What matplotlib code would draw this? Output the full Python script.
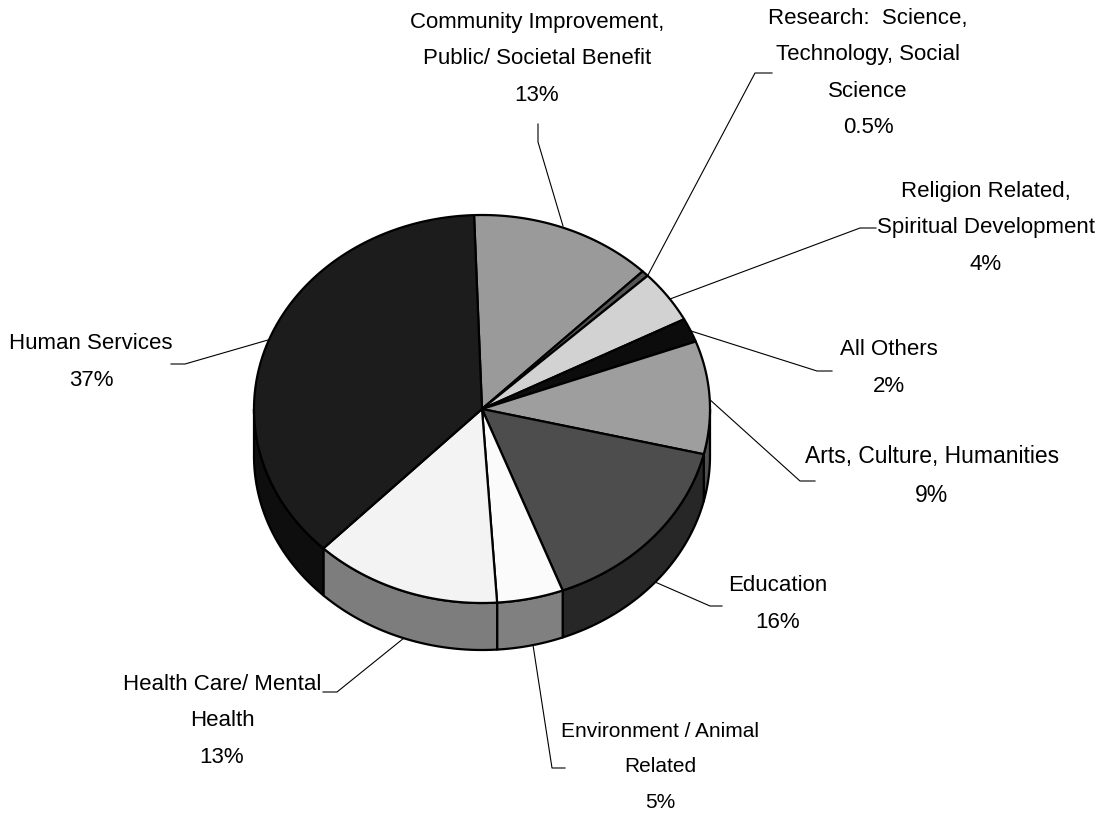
import numpy as np
import matplotlib
matplotlib.use("Agg")
import matplotlib.pyplot as plt

# clockwise from the top of the pie
categories = ["Community Improvement,\nPublic/ Societal Benefit", "Research:  Science,\nTechnology, Social\nScience",
              "Religion Related,\nSpiritual Development", "All Others", "Arts, Culture, Humanities", "Education",
              "Environment / Animal\nRelated", "Health Care/ Mental\nHealth", "Human Services"]
values = [13, 0.5, 4.4, 2, 9.4, 15.5, 4.7, 13.3, 37.2]
value_labels = ["13%", "0.5%", "4%", "2%", "9%", "16%", "5%", "13%", "37%"]
top_colors = ["#9a9a9a", "#555555", "#d2d2d2", "#0c0c0c", "#9e9e9e", "#4d4d4d", "#fbfbfb", "#f3f3f3", "#1c1c1c"]
side_colors = ["#4d4d4d", "#2a2a2a", "#696969", "#060606", "#4f4f4f", "#272727", "#808080", "#7d7d7d", "#0e0e0e"]

# layout in pixels
CX, CY = 482, 409
RX, RY = 228, 194
DEPTH = 47
START = -2.0

label_pos = [(537, 59), (868, 73), (986, 228), (889, 368), (932, 476), (778, 604), (660, 767), (222, 721), (91, 362)]
label_size = [16, 16, 16, 16, 16.5, 16, 15, 16, 16]
leaders = [
    [(563, 226), (538, 142), (538, 124)],
    [(648, 275), (755, 73), (772, 73)],
    [(670, 299), (860, 228), (876, 228)],
    [(691, 331), (817, 371), (832, 371)],
    [(708, 398), (800, 481), (815, 481)],
    [(655, 582), (710, 606), (722, 606)],
    [(533, 645), (552, 768), (565, 768)],
    [(404, 638), (337, 692), (323, 692)],
    [(268, 340), (185, 364), (171, 364)],
]

fig = plt.figure(figsize=(11.05, 8.14), dpi=100)
ax = fig.add_axes([0, 0, 1, 1])
ax.set_xlim(0, 1105)
ax.set_ylim(814, 0)
ax.axis("off")

def rim(a0, a1):
    t = np.radians(np.linspace(a0, a1, max(2, int(abs(a1 - a0) * 2))))
    return CX + RX * np.sin(t), CY - RY * np.cos(t)

shares = np.array(values) / sum(values) * 360
edges = START + np.concatenate([[0], np.cumsum(shares)])

# side wall, only the visible front half (90..270 degrees clockwise from top)
for i in range(len(values)):
    a0, a1 = max(edges[i], 90), min(edges[i + 1], 270)
    if a1 <= a0:
        continue
    x, y = rim(a0, a1)
    ax.fill(np.r_[x, x[::-1]], np.r_[y, y[::-1] + DEPTH], facecolor=side_colors[i],
            edgecolor="black", lw=1.6, joinstyle="round", zorder=2)

# top face
for i in range(len(values)):
    x, y = rim(edges[i], edges[i + 1])
    ax.fill(np.r_[CX, x], np.r_[CY, y], facecolor=top_colors[i],
            edgecolor="black", lw=1.6, joinstyle="round", zorder=3)

for pts in leaders:
    xs, ys = zip(*pts)
    ax.plot(xs, ys, color="black", lw=0.8, zorder=1)

for name, val, (lx, ly), size in zip(categories, value_labels, label_pos, label_size):
    ax.text(lx, ly, name + "\n" + val, ha="center", va="center", fontsize=size,
            family="Liberation Sans", linespacing=1.97 * 16 / size, color="black")

fig.savefig("out.png", dpi=100)
